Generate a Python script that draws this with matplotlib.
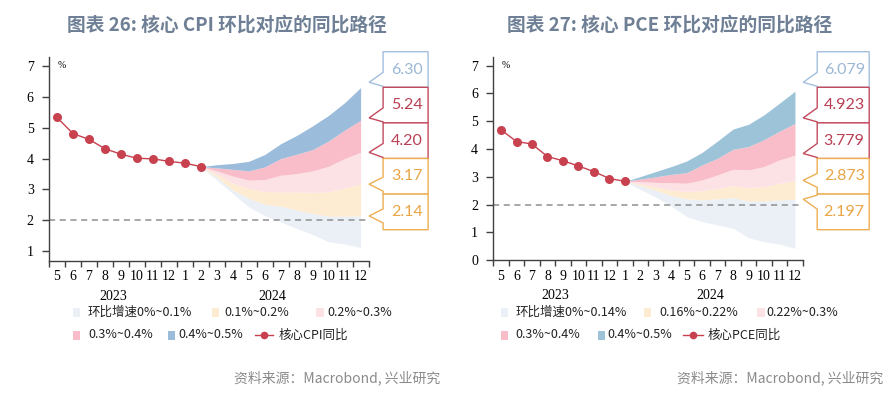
import numpy as np
import matplotlib
matplotlib.use("Agg")
import matplotlib.pyplot as plt
from matplotlib.patches import Polygon, Rectangle
from matplotlib.lines import Line2D
import matplotlib.transforms as mtransforms

plt.rcParams['font.family'] = ['Noto Sans CJK SC', 'DejaVu Sans']

# ---------------- data ----------------
months = ["5", "6", "7", "8", "9", "10", "11", "12",
          "1", "2", "3", "4", "5", "6", "7", "8", "9", "10", "11", "12"]
years = ["2023", "2024"]
months_per_year = [8, 12]

# core CPI y/y, May 2023 - Feb 2024
cpi_actual = [5.33, 4.81, 4.62, 4.32, 4.14, 4.01, 3.99, 3.91, 3.85, 3.74]
# fan edges Feb 2024 - Dec 2024 (m/m 0%, 0.1%, ... 0.5%)
cpi_edge_0 = [3.74, 3.30, 2.87, 2.43, 2.15, 1.95, 1.73, 1.54, 1.30, 1.23, 1.12]
cpi_edge_1 = [3.74, 3.40, 2.98, 2.71, 2.52, 2.46, 2.33, 2.22, 2.13, 2.13, 2.14]
cpi_edge_2 = [3.74, 3.50, 3.20, 3.03, 2.93, 2.92, 2.92, 2.90, 2.92, 3.05, 3.17]
cpi_edge_3 = [3.74, 3.60, 3.43, 3.30, 3.32, 3.46, 3.51, 3.60, 3.75, 4.00, 4.20]
cpi_edge_4 = [3.74, 3.70, 3.65, 3.60, 3.73, 4.00, 4.14, 4.29, 4.57, 4.92, 5.24]
cpi_edge_5 = [3.74, 3.80, 3.84, 3.91, 4.13, 4.48, 4.75, 5.06, 5.40, 5.81, 6.30]
cpi_callouts = ["6.30", "5.24", "4.20", "3.17", "2.14"]
cpi_legend = ["环比增速0%~0.1%", "0.1%~0.2%", "0.2%~0.3%",
              "0.3%~0.4%", "0.4%~0.5%", "核心CPI同比"]

# core PCE y/y, May 2023 - Jan 2024
pce_actual = [4.69, 4.27, 4.18, 3.73, 3.58, 3.39, 3.19, 2.94, 2.84]
# fan edges Jan 2024 - Dec 2024
pce_edge_0 = [2.84, 2.55, 2.27, 1.95, 1.57, 1.39, 1.27, 1.15, 0.81, 0.67, 0.58, 0.43]
pce_edge_1 = [2.84, 2.69, 2.52, 2.32, 2.21, 2.17, 2.21, 2.25, 2.13, 2.13, 2.17, 2.197]
pce_edge_2 = [2.84, 2.75, 2.64, 2.53, 2.47, 2.51, 2.59, 2.68, 2.61, 2.65, 2.77, 2.873]
pce_edge_3 = [2.84, 2.83, 2.80, 2.79, 2.77, 2.89, 3.07, 3.27, 3.25, 3.37, 3.61, 3.779]
pce_edge_4 = [2.84, 2.92, 3.00, 3.09, 3.15, 3.43, 3.67, 3.99, 4.09, 4.34, 4.64, 4.923]
pce_edge_5 = [2.84, 3.01, 3.19, 3.37, 3.57, 3.88, 4.29, 4.72, 4.89, 5.23, 5.65, 6.079]
pce_callouts = ["6.079", "4.923", "3.779", "2.873", "2.197"]
pce_legend = ["环比增速0%~0.14%", "0.16%~0.22%", "0.22%~0.3%",
              "0.3%~0.4%", "0.4%~0.5%", "核心PCE同比"]

# ---------------- styles ----------------
W, H = 895, 398
band_colors_cpi = ["#ebf0f7", "#fdebd2", "#fde2e5", "#f9bdc9", "#9cbcdc"]
band_colors_pce = ["#ebf0f7", "#fdebd2", "#fde2e5", "#f9bdc9", "#9dc3d8"]
line_color = "#c8414f"
callout_colors = ["#a3bfde", "#c24a5e", "#c24a5e", "#eeae52", "#eeae52"]
callout_text_colors = ["#9ab7d6", "#b83f54", "#b83f54", "#e9a545", "#e9a545"]
axis_color = "#404040"
serif = "Liberation Serif"

fig = plt.figure(figsize=(W / 100, H / 100), dpi=100)


def px_box(x0, y0, x1, y1):
    # pixel box (top-left origin) -> figure fraction [l, b, w, h]
    return [x0 / W, 1 - y1 / H, (x1 - x0) / W, (y1 - y0) / H]


def draw_panel(ax, actual, edges, colors, callouts, ymin, ymax, yticks, box_w):
    n = len(months)
    x_all = np.arange(n)
    start = len(actual) - 1
    xf = x_all[start:start + len(edges[0])]
    for k in range(len(edges) - 1):
        ax.fill_between(xf, edges[k], edges[k + 1], color=colors[k], lw=0, zorder=1)
    ax.axhline(2, color="#8f8f8f", lw=1.1, ls=(0, (4, 3)), zorder=2, clip_on=False)
    ax.plot(x_all[:len(actual)], actual, color=line_color, lw=1.0, marker="o",
            markersize=6.5, markeredgewidth=0, zorder=4)

    ax.set_xlim(-0.5, n - 0.5)
    ax.set_ylim(ymin, ymax)
    for s in ["top", "right"]:
        ax.spines[s].set_visible(False)
    for s in ["left", "bottom"]:
        ax.spines[s].set_color(axis_color)
        ax.spines[s].set_linewidth(1.0)

    ax.set_yticks(yticks)
    ax.set_yticklabels([str(t) for t in yticks], fontfamily=serif, fontsize=10)
    ax.tick_params(axis="y", length=5, width=1, color=axis_color, pad=6)

    ax.set_xticks(np.arange(-0.5, n, 1))
    ax.set_xticklabels([])
    ax.tick_params(axis="x", which="major", length=4, width=1, color=axis_color)
    ax.set_xticks(x_all, minor=True)
    ax.set_xticklabels(months, minor=True, fontfamily=serif, fontsize=10)
    ax.tick_params(axis="x", which="minor", length=0, pad=7)

    trans = mtransforms.blended_transform_factory(ax.transData, ax.transAxes)
    pos = 0
    for yr, cnt in zip(years, months_per_year):
        ax.text(pos + (cnt - 1) / 2, -0.175, yr, transform=trans, ha="center",
                va="center", fontfamily=serif, fontsize=10)
        pos += cnt

    ax.text(0.028, 0.955, "%", transform=ax.transAxes, fontsize=7, ha="left",
            va="center", fontfamily=serif)

    # callout boxes on the right
    bbox = ax.get_window_extent()
    axw, axh = bbox.width, bbox.height
    x0 = 1 + 14.5 / axw
    x1 = x0 + box_w / axw
    xtip = 1 + 0.5 / axw
    top = 1 + 5 / axh
    h = 35.6 / axh
    inv = ax.transAxes.inverted()
    ends = [edges[5][-1], edges[4][-1], edges[3][-1], edges[2][-1], edges[1][-1]]
    for k, v in enumerate(ends):
        ytop = top - k * h
        ybot = ytop - h
        yv = inv.transform(ax.transData.transform((0, v)))[1]
        ytip = min(max(yv, ybot + 5 / axh), ytop - 5 / axh)
        c = min(max(ytip, ybot + 8 / axh), ytop - 8 / axh)
        pts = [(x0, ytop), (x1, ytop), (x1, ybot), (x0, ybot),
               (x0, c - 7 / axh), (xtip, ytip), (x0, c + 7 / axh)]
        ax.add_patch(Polygon(pts, closed=True, transform=ax.transAxes, clip_on=False,
                             facecolor="white", edgecolor=callout_colors[k], lw=1.0,
                             zorder=6 + k))
        ax.text((x0 + x1) / 2 + 1 / axw, ytop - h / 2, callouts[k], transform=ax.transAxes,
                ha="center", va="center", color=callout_text_colors[k], fontsize=11.5,
                fontfamily="Lato", zorder=20)


def draw_legend(items_row1, items_row2, y1, y2, labels, colors):
    # items: (square_x, text_x); last item of row2 is the line: (line_x0, line_x1, text_x)
    k = 0
    for (sx, tx), y in [(it, y1) for it in items_row1] + [(it, y2) for it in items_row2[:2]]:
        fig.add_artist(Rectangle((sx / W, 1 - (y + 4.5) / H), 7.5 / W, 9 / H,
                                 transform=fig.transFigure, facecolor=colors[k], lw=0))
        fig.text(tx / W, 1 - y / H, labels[k], ha="left", va="center", fontsize=9,
                 color="#222222")
        k += 1
    lx0, lx1, tx = items_row2[2]
    fig.add_artist(Line2D([lx0 / W, lx1 / W], [1 - y2 / H, 1 - y2 / H], color=line_color,
                          lw=1.0, transform=fig.transFigure))
    fig.add_artist(Line2D([(lx0 + lx1) / 2 / W], [1 - y2 / H], color=line_color,
                          marker="o", markersize=5.5, markeredgewidth=0,
                          transform=fig.transFigure))
    fig.text(tx / W, 1 - y2 / H, labels[5], ha="left", va="center", fontsize=9,
             color="#222222")


# ---------------- left panel ----------------
ax1 = fig.add_axes(px_box(49, 56.7, 368.6, 260.7))
draw_panel(ax1, cpi_actual,
           [cpi_edge_0, cpi_edge_1, cpi_edge_2, cpi_edge_3, cpi_edge_4, cpi_edge_5],
           band_colors_cpi, cpi_callouts, 0.69, 7.3, [1, 2, 3, 4, 5, 6, 7], 45)

# ---------------- right panel ----------------
ax2 = fig.add_axes(px_box(493.3, 56.7, 802.7, 260.3))
draw_panel(ax2, pce_actual,
           [pce_edge_0, pce_edge_1, pce_edge_2, pce_edge_3, pce_edge_4, pce_edge_5],
           band_colors_pce, pce_callouts, 0, 7.32, [0, 1, 2, 3, 4, 5, 6, 7], 52)

# legends
draw_legend([(73, 88), (212, 224), (316, 327)], [(73, 88), (168, 178), (255, 273, 279)],
            312, 335, cpi_legend, band_colors_cpi)
draw_legend([(501, 516), (644, 659), (757, 766)], [(501, 515), (598, 607), (683, 703, 708)],
            312, 335, pce_legend, band_colors_pce)

# titles
title_color = "#6f8096"
fig.text(227 / W, 1 - 25 / H, "图表 26: 核心 CPI 环比对应的同比路径", ha="center", va="center",
         fontsize=13.5, fontweight="bold", color=title_color)
fig.text(670 / W, 1 - 25 / H, "图表 27: 核心 PCE 环比对应的同比路径", ha="center", va="center",
         fontsize=13.5, fontweight="bold", color=title_color)

# sources
fig.text(440 / W, 1 - 378 / H, "资料来源：Macrobond, 兴业研究", ha="right", va="center",
         fontsize=10, color="#8a8a8a")
fig.text(883 / W, 1 - 378 / H, "资料来源：Macrobond, 兴业研究", ha="right", va="center",
         fontsize=10, color="#8a8a8a")

fig.savefig("out.png", dpi=100)
